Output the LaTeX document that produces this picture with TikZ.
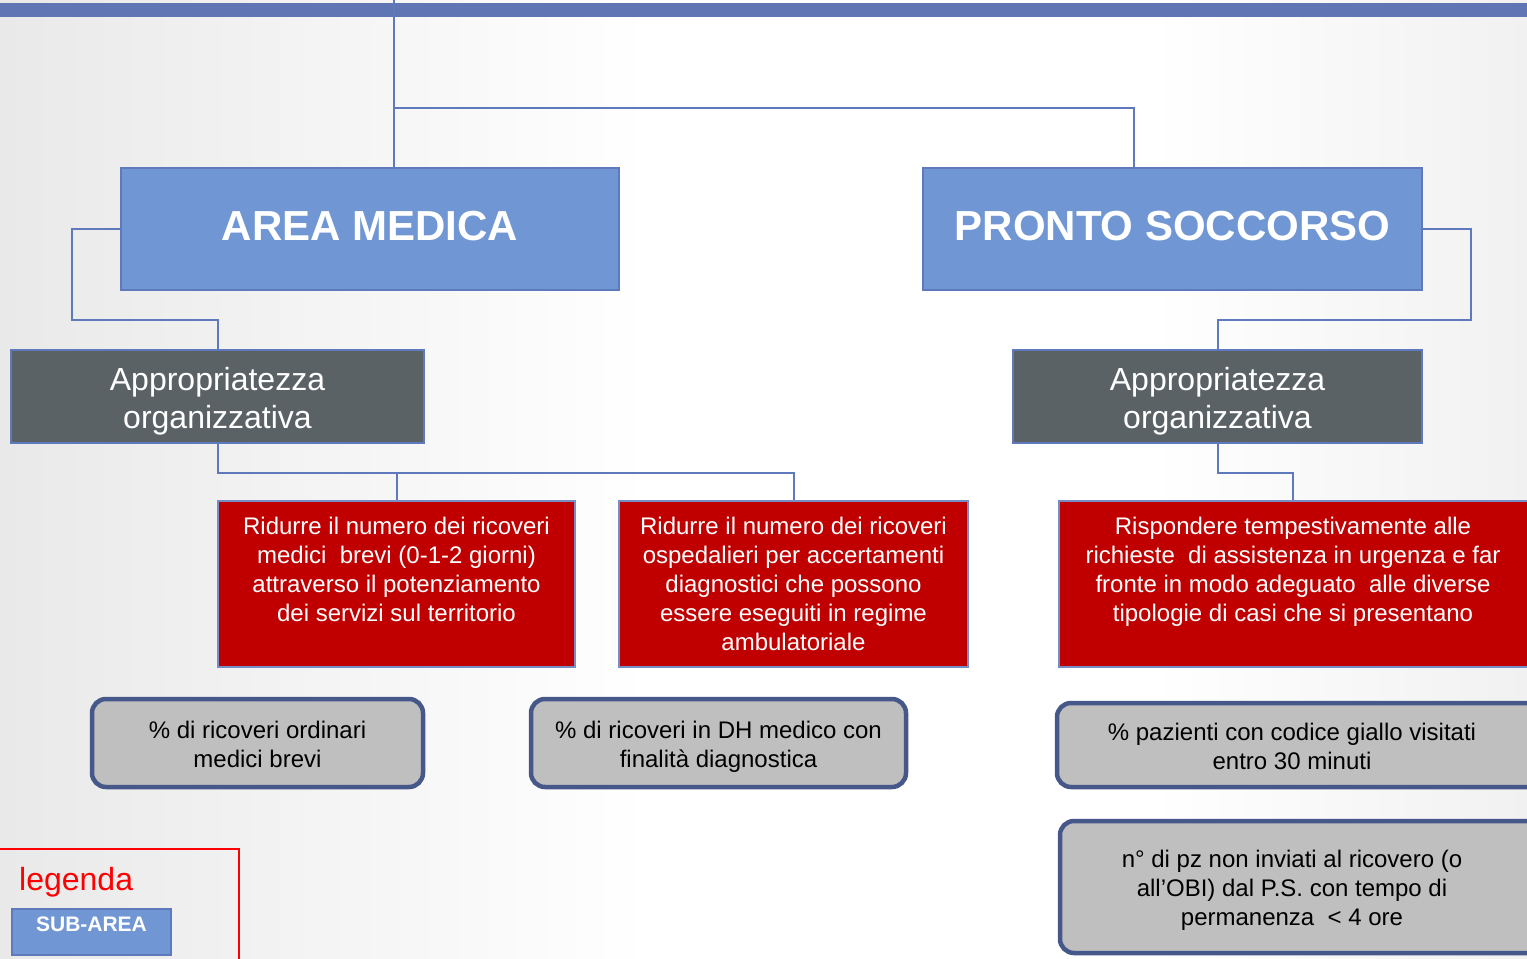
\documentclass[tikz,border=0pt]{standalone}
\usepackage{fontspec}
\setmainfont{Liberation Sans}
\usetikzlibrary{calc}
\definecolor{barblue}{HTML}{6076B4}
\definecolor{lineblue}{HTML}{5E79BC}
\definecolor{areablue}{HTML}{7097D4}
\definecolor{darkgrey}{HTML}{5A6266}
\definecolor{boxred}{HTML}{C00000}
\definecolor{indgrey}{HTML}{BFBFBF}
\definecolor{indborder}{HTML}{46578A}
\definecolor{bgL}{HTML}{E9E9E9}
\definecolor{bgR}{HTML}{F1F1F1}
\definecolor{legred}{HTML}{FF0000}
\begin{document}
\begin{tikzpicture}[x=1pt,y=-1pt,
 conn/.style={draw=lineblue,line width=2pt},
 areabox/.style={draw=lineblue,line width=1.5pt,fill=areablue,text=white,font=\fontsize{42}{50}\selectfont\bfseries,inner sep=0pt,minimum height=122pt,text depth=6pt},
 subbox/.style={draw=lineblue,line width=1.5pt,fill=darkgrey,inner sep=0pt,minimum height=93pt},
 subtext/.style={text=white,font=\fontsize{32}{38}\selectfont,align=center,inner sep=0pt},
 goalbox/.style={draw=lineblue!85,line width=1.5pt,fill=boxred,inner sep=0pt,minimum height=166pt},
 goaltext/.style={text=white,font=\fontsize{24}{29}\selectfont,align=center,inner sep=0pt,anchor=north},
 indbox/.style={draw=indborder,line width=4.5pt,fill=indgrey,rounded corners=14pt,inner sep=0pt},
 indtext/.style={text=black,font=\fontsize{24}{29}\selectfont,align=center,inner sep=0pt},
]
\useasboundingbox (0,0) rectangle (1527,959);
\fill[white] (0,0) rectangle (1527,959);
\shade[left color=bgL,right color=white] (0,0) rectangle (650,959);
\shade[left color=white,right color=bgR] (1150,0) rectangle (1527,959);
\fill[barblue] (0,3) rectangle (1527,17);

% main areas
\node[areabox,minimum width=498pt] (am) at (370,229) {AREA MEDICA};
\node[areabox,minimum width=499pt] (ps) at (1172.5,229) {PRONTO SOCCORSO};

% sub-areas
\node[subbox,minimum width=413pt] (ao) at (217.5,396.5) {};
\node[subtext] (aot) at (217.5,401) {Appropriatezza\\organizzativa};
\node[subbox,minimum width=409pt] (po) at (1217.5,396.5) {};
\node[subtext] (pot) at (1217.5,401) {Appropriatezza\\organizzativa};

% goals
\node[goalbox,minimum width=357pt] (r1) at (396.5,584) {};
\node[goalbox,minimum width=349pt] (r2) at (793.5,584) {};
\node[goalbox,minimum width=486pt] (r3) at (1302,584) {};
\node[goaltext] (r1t) at (396.5,517) {Ridurre il numero dei ricoveri\\medici\ \ brevi (0-1-2 giorni)\\attraverso il potenziamento\\dei servizi sul territorio};
\node[goaltext] (r2t) at (793.5,517) {Ridurre il numero dei ricoveri\\ospedalieri per accertamenti\\diagnostici che possono\\essere eseguiti in regime\\ambulatoriale};
\node[goaltext] (r3t) at (1293,517) {Rispondere tempestivamente alle\\richieste\ \ di assistenza in urgenza e far\\fronte in modo adeguato\ \ alle diverse\\tipologie di casi che si presentano};

% indicators
\node[indbox,minimum width=331pt,minimum height=88pt] (g1) at (257.5,743) {};
\node[indtext] (g1t) at (257.5,744) {\% di ricoveri ordinari\\medici brevi};
\node[indbox,minimum width=375pt,minimum height=88pt] (g2) at (718.5,743) {};
\node[indtext] (g2t) at (718.5,747) {\% di ricoveri in DH medico con\\finalità diagnostica};
\node[indbox,minimum width=486pt,minimum height=84pt] (g3) at (1300,745) {};
\node[indtext] (g3t) at (1292,746.5) {\% pazienti con codice giallo visitati\\entro 30 minuti};
\node[indbox,minimum width=484pt,minimum height=132pt] (g4) at (1302,887) {};
\node[indtext] (g4t) at (1292,890) {n° di pz non inviati al ricovero (o\\all’OBI) dal P.S. con tempo di\\permanenza\ \ < 4 ore};

% legend
\node[draw=legred,line width=1.5pt,minimum width=244pt,minimum height=126pt,inner sep=0pt] (leg) at (117,912) {};
\node[text=legred,font=\fontsize{32}{38}\selectfont,anchor=west,inner sep=0pt] (legt) at (19,882) {legenda};
\node[draw=lineblue,line width=1.5pt,fill=areablue,minimum width=159pt,minimum height=46pt,inner sep=0pt] (sa) at (91.5,932) {};
\node[text=white,font=\fontsize{21}{25}\selectfont\bfseries,inner sep=0pt] (sat) at (91.5,924) {SUB-AREA};

% connectors
\coordinate (top) at (394,0);
\coordinate (j1) at (394,108);
\draw[conn] (top) -- (top |- am.north);
\draw[conn] (j1) -| ([xshift=-38.5pt]ps.north);
\draw[conn] (am.west) -| ++(-48,91) -| (ao.north);
\draw[conn] (ps.east) -| ++(48,91) -| (po.north);
\draw[conn] (ao.south) -- ++(0,29) coordinate (b1) -| (r2.north);
\draw[conn] (b1 -| r1.north) -- (r1.north);
\draw[conn] (po.south) -- ++(0,29) -| (r3t.north |- r3.north);
\end{tikzpicture}
\end{document}
